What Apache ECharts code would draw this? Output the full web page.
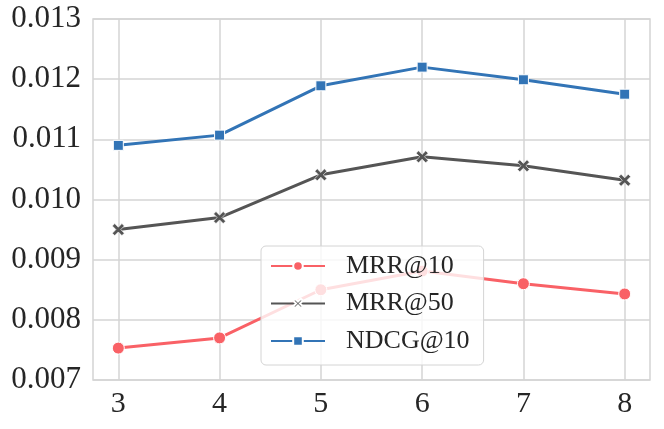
<!DOCTYPE html>
<html>
<head>
<meta charset="utf-8">
<script src="https://cdn.jsdelivr.net/npm/echarts@6/dist/echarts.min.js"></script>
<style>html,body{margin:0;padding:0;background:#fff;}#c{width:664px;height:429px;}</style>
</head>
<body>
<div id="c"></div>
<script>
var xValues = [3, 4, 5, 6, 7, 8];
var yTicks = [0.007, 0.008, 0.009, 0.010, 0.011, 0.012, 0.013];
var mrr10 = [0.00753, 0.00770, 0.00850, 0.00881, 0.00860, 0.00843];
var mrr50 = [0.00950, 0.00970, 0.01041, 0.01071, 0.01056, 0.01032];
var ndcg10 = [0.01090, 0.01107, 0.01189, 0.01220, 0.01199, 0.01175];
var seriesNames = ['MRR@10', 'MRR@50', 'NDCG@10'];
var colors = ['#f96166', '#555555', '#3274b6'];

var xSymbol = 'path://M2,0 L5,3 L8,0 L10,2 L7,5 L10,8 L8,10 L5,7 L2,10 L0,8 L3,5 L0,2 Z';
var font = '"Liberation Serif", "Times New Roman", Tinos, serif';

function pairs(vals) { return xValues.map(function (x, i) { return [x, vals[i]]; }); }

var chart = echarts.init(document.getElementById('c'), null, {renderer: 'canvas'});
chart.setOption({
  animation: false,
  backgroundColor: '#fff',
  textStyle: {fontFamily: font},
  grid: {left: 93, top: 19, right: 14, bottom: 49, show: true, borderColor: '#d4d4d4', borderWidth: 1.5, containLabel: false},
  xAxis: {
    type: 'value', min: 2.75, max: 8.25,
    axisLine: {show: false}, axisTick: {show: false, customValues: xValues},
    axisLabel: {customValues: xValues, color: '#262626', fontFamily: font, fontSize: 30, margin: 9},
    splitLine: {show: true, lineStyle: {color: '#d4d4d4', width: 1.5}}
  },
  yAxis: {
    type: 'value', min: 0.007, max: 0.013, interval: 0.001,
    axisLine: {show: false}, axisTick: {show: false},
    axisLabel: {color: '#262626', fontFamily: font, fontSize: 31, margin: 12, formatter: function (v) { return v.toFixed(3); }},
    splitLine: {show: true, lineStyle: {color: '#d4d4d4', width: 1.5}}
  },
  legend: {
    orient: 'vertical', left: 261, top: 246, width: 190,
    padding: [7, 14, 11, 9], itemGap: 11.5, itemWidth: 54, itemHeight: 12,
    backgroundColor: 'rgba(255,255,255,0.8)', borderColor: '#d4d4d4', borderWidth: 1, borderRadius: 5,
    lineStyle: {width: 2},
    textStyle: {color: '#262626', fontFamily: font, fontSize: 26, padding: [0, 0, 0, 16]},
    data: seriesNames
  },
  series: [
    {name: seriesNames[0], type: 'line', data: pairs(mrr10), color: colors[0], symbol: 'circle', symbolSize: 12,
     lineStyle: {width: 3}, itemStyle: {color: colors[0], borderColor: '#fff', borderWidth: 1}},
    {name: seriesNames[1], type: 'line', data: pairs(mrr50), color: colors[1], symbol: xSymbol, symbolSize: 12,
     lineStyle: {width: 3}, itemStyle: {color: colors[1], borderColor: '#fff', borderWidth: 0.6}},
    {name: seriesNames[2], type: 'line', data: pairs(ndcg10), color: colors[2], symbol: 'rect', symbolSize: 10,
     lineStyle: {width: 3}, itemStyle: {color: colors[2], borderColor: '#fff', borderWidth: 1}}
  ]
});
</script>
</body>
</html>
